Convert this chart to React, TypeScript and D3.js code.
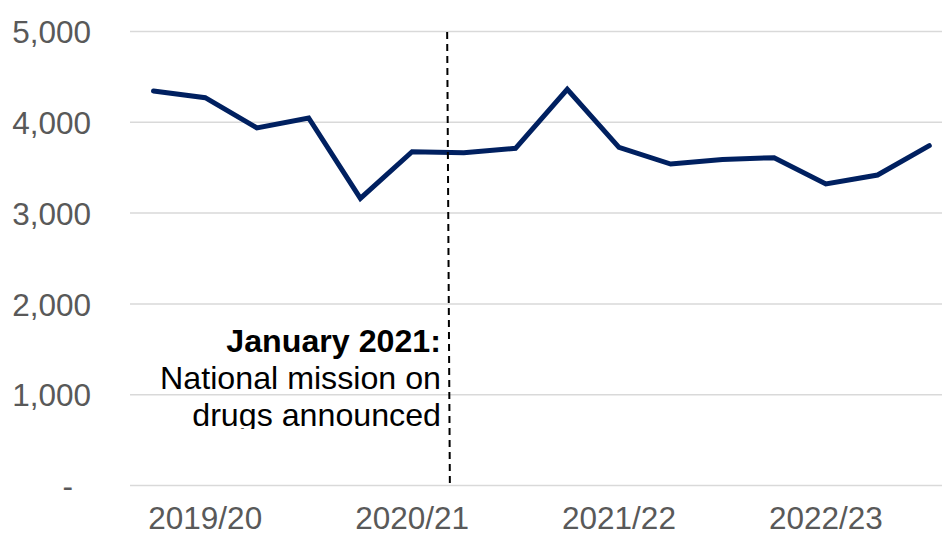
import React, { useEffect, useRef } from "react";
import * as d3 from "d3";

const categories = [
  "2019/20 Q1", "2019/20 Q2", "2019/20 Q3", "2019/20 Q4",
  "2020/21 Q1", "2020/21 Q2", "2020/21 Q3", "2020/21 Q4",
  "2021/22 Q1", "2021/22 Q2", "2021/22 Q3", "2021/22 Q4",
  "2022/23 Q1", "2022/23 Q2", "2022/23 Q3", "2022/23 Q4",
];
const values = [4339, 4266, 3932, 4042, 3157, 3671, 3660, 3708, 4358, 3719, 3535, 3585, 3605, 3315, 3414, 3737];
const xTickCategories = ["2019/20 Q2", "2020/21 Q2", "2021/22 Q2", "2022/23 Q2"];
const xTickLabels = ["2019/20", "2020/21", "2021/22", "2022/23"];
const yTicks = [0, 1000, 2000, 3000, 4000, 5000];
const annotationLines = ["January 2021:", "National mission on", "drugs announced"];

const W = 942;
const H = 535;
const FONT = "'Liberation Sans', Arial, Helvetica, sans-serif";

export default function App() {
  const ref = useRef<SVGSVGElement>(null);

  useEffect(() => {
    const svg = d3.select(ref.current);
    svg.selectAll("*").remove();

    const gridLeft = 130;
    const gridRight = 942;
    const x = d3.scalePoint<string>().domain(categories).range([153.5, 929.3]);
    const y = d3.scaleLinear().domain([0, 5000]).range([485, 31]);
    const step = x.step();

    // Y axis with gridlines
    const yAxis = d3
      .axisLeft(y)
      .tickValues(yTicks)
      .tickSize(-(gridRight - gridLeft))
      .tickPadding(39)
      .tickFormat((d) => (+d === 0 ? "-" : d3.format(",")(+d)));
    const gy = svg.append("g").attr("transform", `translate(${gridLeft},0)`).call(yAxis);
    gy.select(".domain").remove();
    gy.selectAll(".tick line").attr("stroke", "#d9d9d9").attr("stroke-width", 1.5);
    gy.selectAll<SVGTextElement, number>(".tick text")
      .attr("fill", "#595959")
      .attr("font-family", FONT)
      .attr("font-size", 31.5)
      .attr("dy", "0.37em")
      .attr("x", (d) => (d === 0 ? -57 : -39));

    // X labels
    const gx = svg.append("g");
    gx.selectAll("text")
      .data(xTickCategories)
      .join("text")
      .attr("x", (d) => x(d)!)
      .attr("y", 529)
      .attr("text-anchor", "middle")
      .attr("fill", "#595959")
      .attr("font-family", FONT)
      .attr("font-size", 31.5)
      .text((_, i) => xTickLabels[i]);

    // Line
    const line = d3
      .line<number>()
      .x((_, i) => x(categories[i])!)
      .y((d) => y(d));
    svg
      .append("path")
      .datum(values)
      .attr("d", line)
      .attr("fill", "none")
      .attr("stroke", "#002060")
      .attr("stroke-width", 5)
      .attr("stroke-linejoin", "miter")
      .attr("stroke-linecap", "round");

    // Dashed marker line (January 2021)
    const xBase = x("2020/21 Q2")!;
    svg
      .append("line")
      .attr("x1", xBase + 0.678 * step)
      .attr("y1", y(5000) + 1)
      .attr("x2", xBase + 0.73 * step)
      .attr("y2", y(0) - 2)
      .attr("stroke", "#000")
      .attr("stroke-width", 2)
      .attr("stroke-dasharray", "7,5");

    // Annotation text (clipped at the bottom like the reference)
    const defs = svg.append("defs");
    defs
      .append("clipPath")
      .attr("id", "annClip")
      .append("rect")
      .attr("x", 100)
      .attr("y", 300)
      .attr("width", 345)
      .attr("height", 129);
    const ann = svg.append("g").attr("clip-path", "url(#annClip)");
    const baselines = [351.7, 389.3, 425.7];
    ann
      .selectAll("text")
      .data(annotationLines)
      .join("text")
      .attr("x", 441)
      .attr("y", (_, i) => baselines[i])
      .attr("text-anchor", "end")
      .attr("fill", "#000")
      .attr("font-family", FONT)
      .attr("font-size", 32.2)
      .attr("font-weight", (_, i) => (i === 0 ? "bold" : "normal"))
      .text((d) => d);
  }, []);

  return (
    <div style={{ position: "absolute", left: 0, top: 0 }}>
      <svg ref={ref} width={W} height={H} style={{ display: "block", background: "#fff" }} />
    </div>
  );
}
